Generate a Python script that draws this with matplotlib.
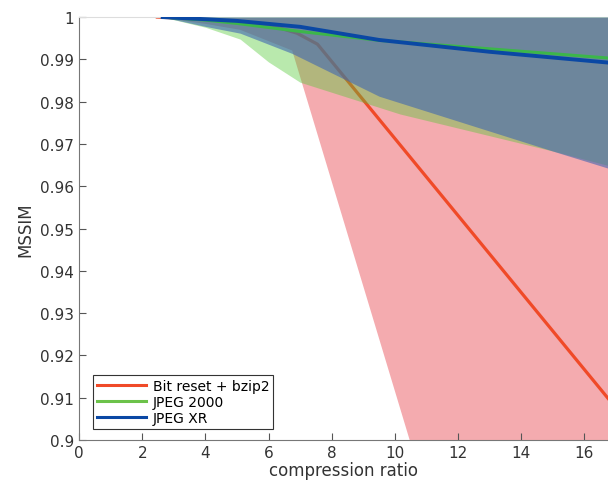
import matplotlib
matplotlib.use("Agg")
import matplotlib.pyplot as plt

# lines (median MSSIM vs compression ratio)
x_bit = [2.48, 4.0, 5.0, 6.0, 6.9, 7.55, 18.0]
y_bit = [1.0, 0.9995, 0.9990, 0.9982, 0.9962, 0.9936, 0.8985]

x_j2k = [2.65, 4.0, 5.0, 7.0, 9.5, 13.0, 18.0]
y_j2k = [1.0, 0.9993, 0.9985, 0.9966, 0.9945, 0.9925, 0.9896]

x_jxr = [2.65, 4.0, 5.0, 7.0, 9.5, 13.0, 18.0]
y_jxr = [1.0, 0.9995, 0.9991, 0.9977, 0.9946, 0.9918, 0.9884]

# shaded ranges
xb_bit = [2.48, 4.0, 5.1, 6.75, 10.47, 18.0]
lo_bit = [1.0, 0.9984, 0.9970, 0.9921, 0.9, 0.715]
hi_bit = [1.0, 1.0, 1.0, 1.0, 1.0, 1.0]

xb_j2k = [2.65, 4.0, 5.1, 6.0, 7.0, 10.16, 15.13, 18.0]
lo_j2k = [1.0, 0.9976, 0.9948, 0.9894, 0.9846, 0.9771, 0.9681, 0.9625]
hi_j2k = [1.0, 1.0, 1.0, 1.0, 1.0, 1.0, 1.0, 1.0]

xb_jxr = [2.65, 4.0, 5.1, 6.75, 9.5, 15.1, 18.0]
lo_jxr = [1.0, 0.9978, 0.9962, 0.9914, 0.9813, 0.9681, 0.9614]
hi_jxr = [1.0, 1.0, 1.0, 1.0, 1.0, 1.0, 1.0]

fig = plt.figure(figsize=(6.08, 4.89), dpi=100)
ax = fig.add_axes([0.13, 0.098, 0.87, 0.865])

# drawing order matters: blue band sits over the red line, green/blue lines on top
ax.fill_between(xb_bit, lo_bit, hi_bit, color=(228/255, 45/255, 55/255), alpha=0.4, lw=0, zorder=1)
ax.plot(x_bit, y_bit, color="#f04a28", lw=2.3, label="Bit reset + bzip2", zorder=2)
ax.fill_between(xb_j2k, lo_j2k, hi_j2k, color=(80/255, 200/255, 50/255), alpha=0.4, lw=0, zorder=3)
ax.fill_between(xb_jxr, lo_jxr, hi_jxr, color=(64/255, 102/255, 177/255), alpha=0.6, lw=0, zorder=4)
ax.plot(x_j2k, y_j2k, color="#3cb64a", lw=2.2, label="JPEG 2000", zorder=5)
ax.plot(x_jxr, y_jxr, color="#0a48a4", lw=2.8, label="JPEG XR", zorder=6)

ax.set_xlim(0, 16.75)
ax.set_ylim(0.9, 1.0)
ax.set_xticks(range(0, 17, 2))
yt = [0.9 + 0.01 * i for i in range(11)]
ax.set_yticks(yt)
ax.set_yticklabels(["0.9", "0.91", "0.92", "0.93", "0.94", "0.95", "0.96",
                    "0.97", "0.98", "0.99", "1"])
ax.tick_params(direction="in", length=5, width=0.8, colors="#555555",
               labelcolor="#333333", labelsize=11)
for s in ["left", "bottom"]:
    ax.spines[s].set_color("#777777")
ax.spines["top"].set_color("#dddddd")
ax.spines["right"].set_visible(False)

ax.set_xlabel("compression ratio", fontsize=12, color="#333333", labelpad=1)
ax.set_ylabel("MSSIM", fontsize=12, color="#333333", labelpad=4)

leg = ax.legend(loc="lower left", bbox_to_anchor=(0.026, 0.026), borderaxespad=0,
                fontsize=10, handlelength=3.5, fancybox=False, framealpha=1,
                edgecolor="#333333", borderpad=0.3, labelspacing=0.15, handletextpad=0.5)
leg.set_zorder(10)
leg.get_frame().set_linewidth(0.8)
leg.get_lines()[1].set_color("#6cc24a")
for l in leg.get_lines():
    l.set_linewidth(2.2)

fig.savefig("out.png", dpi=100)
